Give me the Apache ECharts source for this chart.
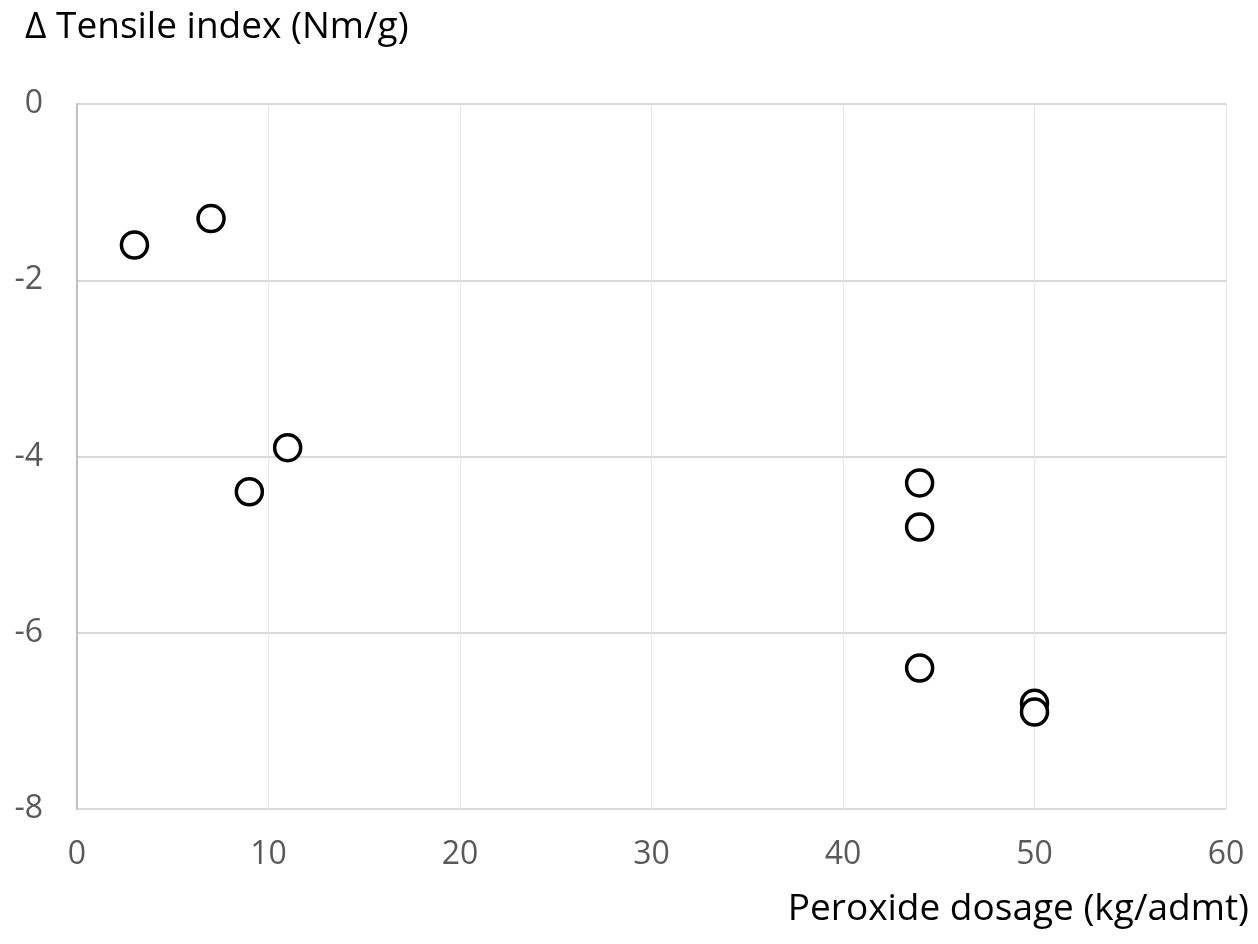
<!DOCTYPE html>
<html><head><meta charset="utf-8">
<script src="https://cdn.jsdelivr.net/npm/echarts@6/dist/echarts.min.js"></script>
<style>html,body{margin:0;padding:0;background:#fff}#c{width:1258px;height:944px}</style>
</head><body><div id="c"></div>
<script>
const dosage = [3, 7, 9, 11, 44, 44, 44, 50, 50];
const deltaTensile = [-1.6, -1.3, -4.4, -3.9, -4.3, -4.8, -6.4, -6.8, -6.9];
const yTitle = 'Δ Tensile index (Nm/g)';
const xTitle = 'Peroxide dosage (kg/admt)';
const FONT = '"Open Sans", sans-serif';
const chart = echarts.init(document.getElementById('c'), null, {renderer: 'canvas'});
chart.setOption({
  backgroundColor: '#fff',
  animation: false,
  title: [
    {text: yTitle, left: 20, top: 4, textStyle: {fontFamily: FONT, fontSize: 37, fontWeight: 'normal', color: '#000'}},
    {text: xTitle, right: 4, top: 886, textStyle: {fontFamily: FONT, fontSize: 37, fontWeight: 'normal', color: '#000'}}
  ],
  grid: {left: 77, right: 32, top: 104, bottom: 135, containLabel: false},
  xAxis: {
    type: 'value', min: 0, max: 60, interval: 10,
    axisLine: {show: false},
    axisTick: {show: false},
    axisLabel: {fontFamily: FONT, fontSize: 32, color: '#595959', margin: 30},
    splitLine: {show: true, lineStyle: {color: '#e6e6e6', width: 1}}
  },
  yAxis: {
    type: 'value', min: -8, max: 0, interval: 2,
    axisLine: {show: true, onZero: false, lineStyle: {color: '#bfbfbf', width: 2}},
    axisTick: {show: false},
    axisLabel: {fontFamily: FONT, fontSize: 32, color: '#595959', margin: 34},
    splitLine: {show: true, lineStyle: {color: '#d9d9d9', width: 2}}
  },
  series: [{
    type: 'scatter',
    data: dosage.map((x, i) => [x, deltaTensile[i]]),
    symbol: 'circle',
    symbolSize: 26,
    itemStyle: {color: '#fff', borderColor: '#000', borderWidth: 3.5, opacity: 1}
  }]
});
</script></body></html>
